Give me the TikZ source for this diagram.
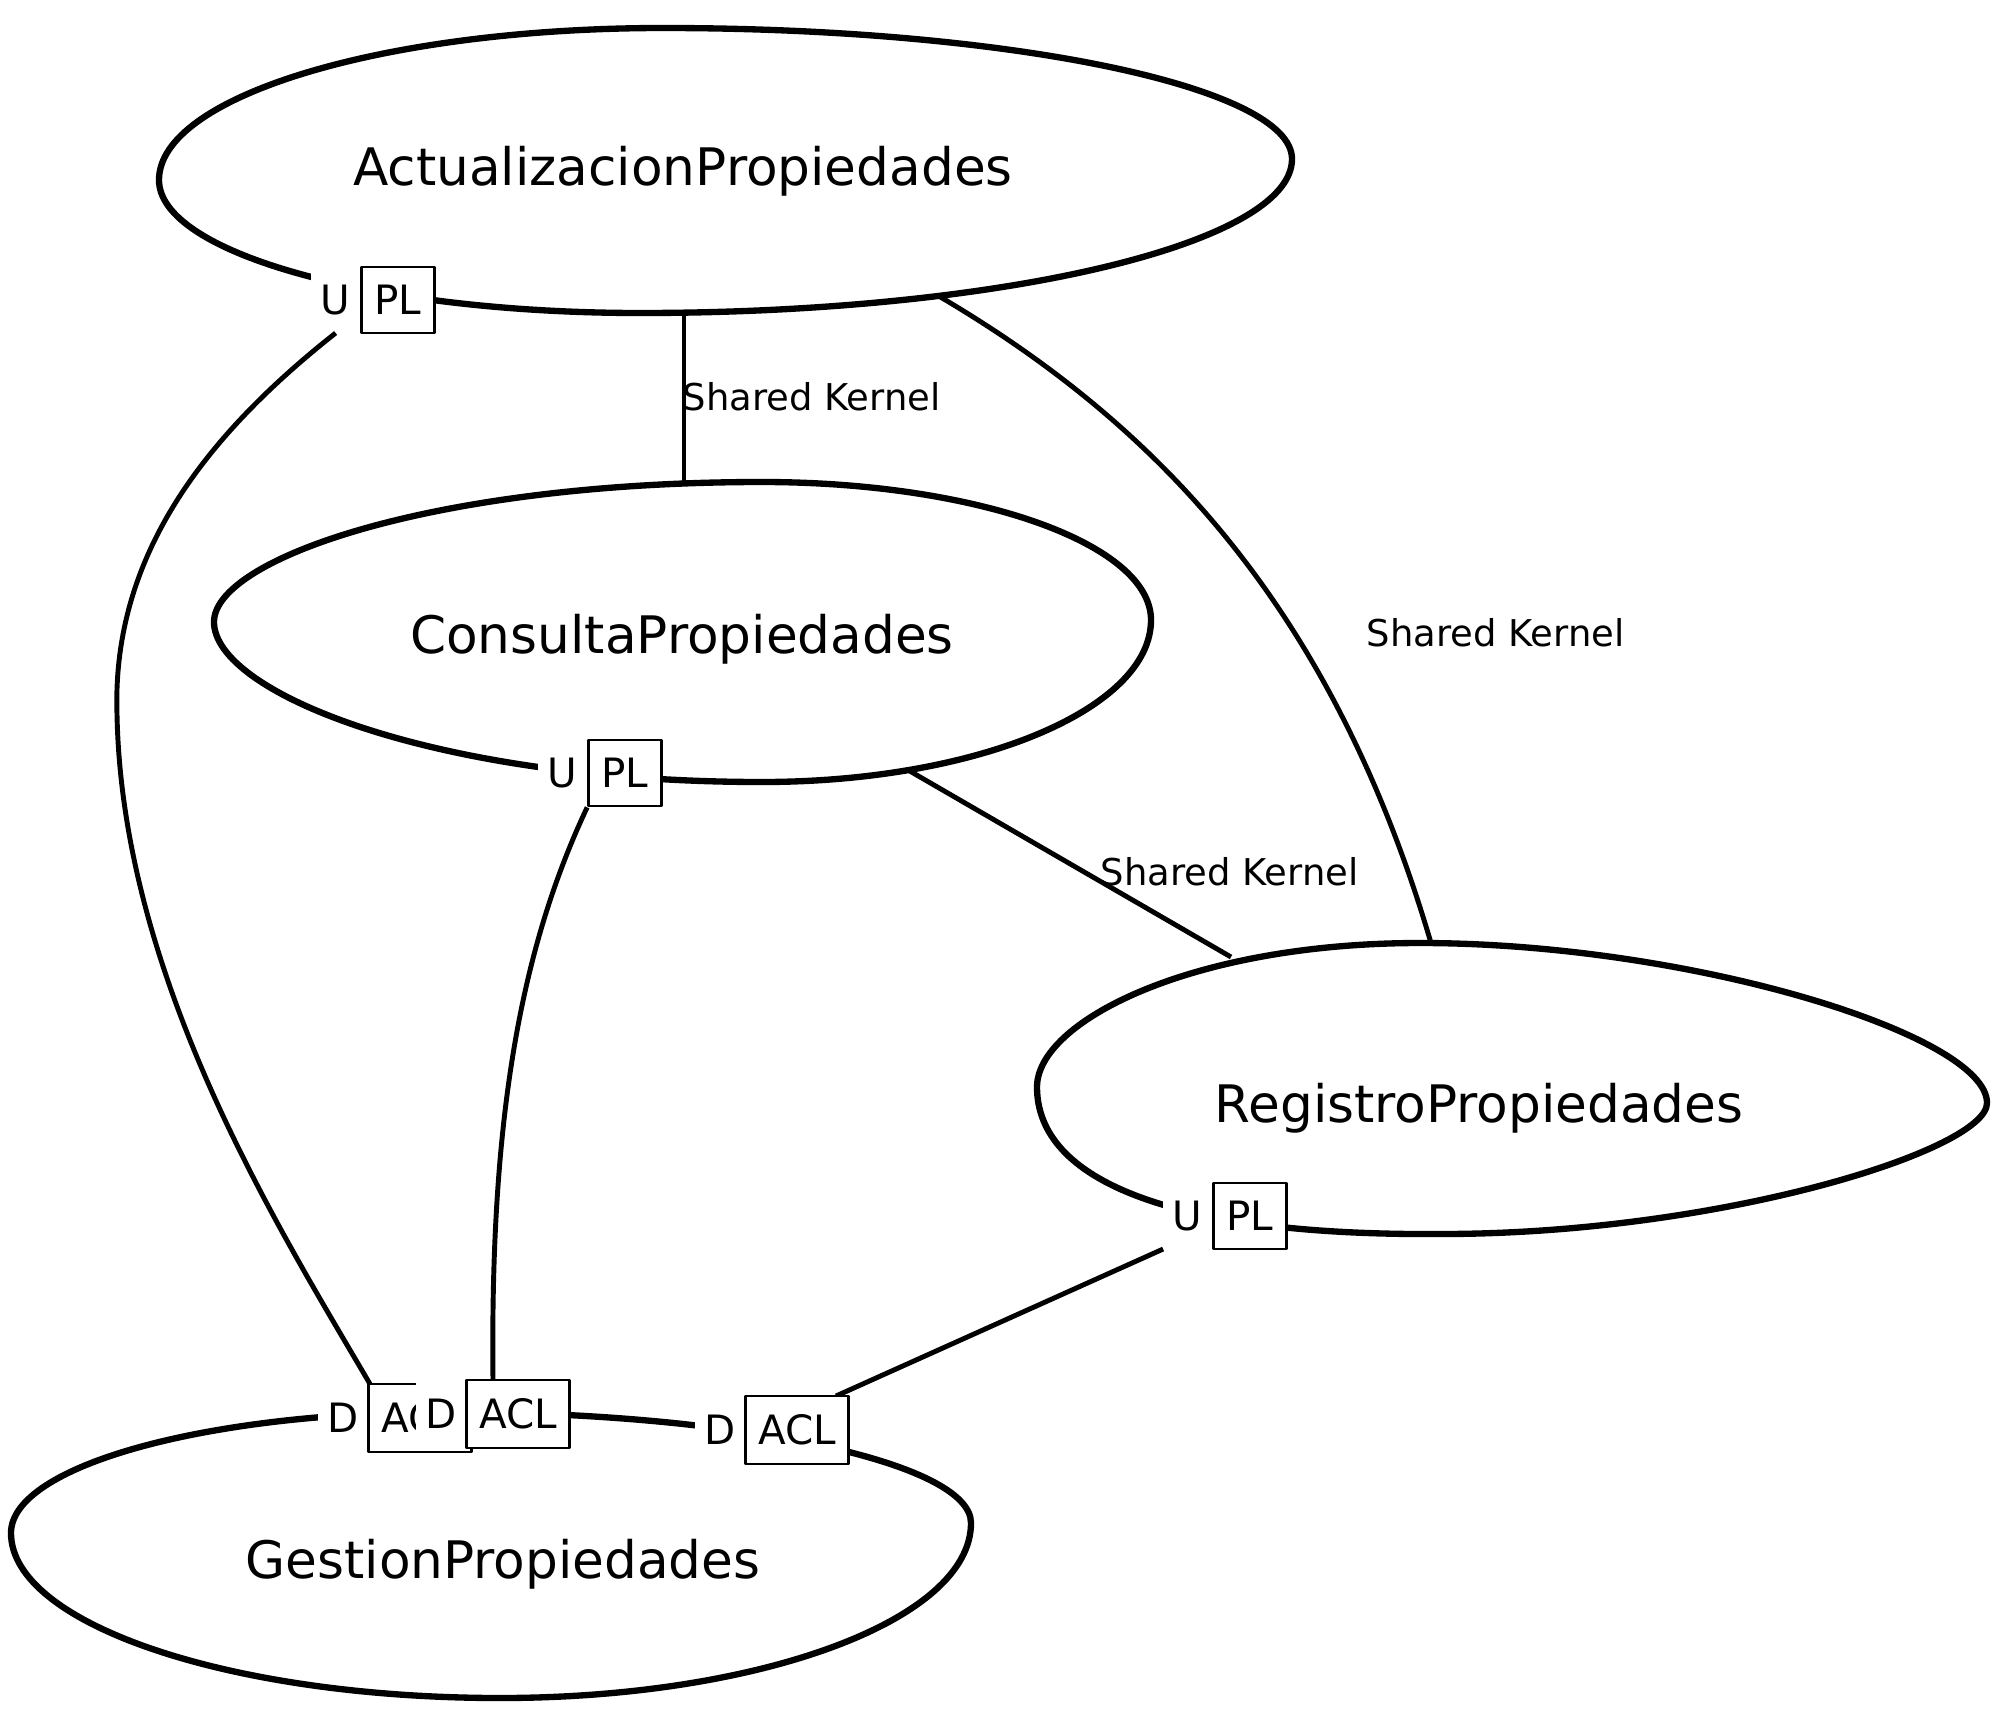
\documentclass[tikz,border=0pt]{standalone}
\usepackage{fontspec}
\setmainfont{DejaVu Sans}
\usepackage{tikz}
\usetikzlibrary{positioning,calc}

\begin{document}
\begin{tikzpicture}[x=0.01cm,y=-0.01cm,line join=round,
  blob/.style={line width=1.8pt},
  rel/.style={line width=1.4pt},
  title/.style={anchor=base,font=\fontsize{14.7}{16}\selectfont},
  kernel/.style={anchor=base west,inner sep=0pt,font=\fontsize{10.5}{12}\selectfont},
  tagbox/.style={draw,line width=0.75pt,fill=white,inner sep=0pt,minimum height=0.66cm,
    font=\fontsize{11.5}{13}\selectfont},
  plbox/.style={tagbox,minimum width=0.73cm},
  aclbox/.style={tagbox,minimum width=1.03cm,minimum height=0.68cm},
  role/.style={fill=white,inner sep=0pt,outer sep=0pt,minimum width=0.49cm,minimum height=0.66cm,
    font=\fontsize{11.5}{13}\selectfont}]
  \useasboundingbox (0,0) rectangle (2000,1709);

  % contextes
  \draw[blob] (159,180) .. controls (159,96) and (385,28) .. (663,28)
    .. controls (1010,28) and (1292,87) .. (1292,159)
    .. controls (1292,244) and (1000,313) .. (640,313)
    .. controls (374,313) and (159,253) .. (159,180);
  \draw[blob] (214,622) .. controls (214,559) and (433,482) .. (762,482)
    .. controls (977,482) and (1151,544) .. (1151,620)
    .. controls (1151,709) and (977,782) .. (762,782)
    .. controls (432,782) and (214,692) .. (214,622);
  \draw[blob] (1037,1087) .. controls (1037,1022) and (1190,943) .. (1420,943)
    .. controls (1690,943) and (1987,1035) .. (1987,1103)
    .. controls (1987,1150) and (1720,1234) .. (1441,1234)
    .. controls (1170,1236) and (1037,1180) .. (1037,1087);
  \draw[blob] (11,1533) .. controls (11,1466) and (206,1412) .. (446,1412)
    .. controls (736,1412) and (971,1462) .. (971,1523)
    .. controls (971,1620) and (760,1698) .. (500,1698)
    .. controls (230,1698) and (11,1624) .. (11,1533);

  \node[title] (actualizacion) at (683,185) {ActualizacionPropiedades};
  \node[title] (consulta) at (682,653) {ConsultaPropiedades};
  \node[title] (registro) at (1479,1122) {RegistroPropiedades};
  \node[title] (gestion) at (503,1578) {GestionPropiedades};

  % points d'attache
  \coordinate (act-bot) at (684,313);
  \coordinate (act-reg) at (937,295);
  \coordinate (con-top) at (684,483);
  \coordinate (con-reg) at (908,770);
  \coordinate (reg-top) at (1431,943);
  \coordinate (reg-con) at (1231,957);

  % shared kernel
  \node[kernel] (sk1) at (682,410) {Shared Kernel};
  \node[kernel] (sk2) at (1366,646) {Shared Kernel};
  \node[kernel] (sk3) at (1100,885) {Shared Kernel};
  \draw[rel] (act-bot) -- (con-top);
  \draw[rel] (act-reg) .. controls (1150,420) and (1330,600) .. (reg-top);
  \draw[rel] (con-reg) -- (reg-con);

  % upstream / downstream
  \node[plbox] (pl1) at (398,300) {PL};
  \node[role,left=0pt of pl1] (u1) {U};
  \node[plbox] (pl2) at (625,773) {PL};
  \node[role,left=0pt of pl2] (u2) {U};
  \node[plbox] (pl3) at (1250,1216) {PL};
  \node[role,left=0pt of pl3] (u3) {U};

  \draw[rel] (u1.south) .. controls (200,440) and (112,560) .. (117,714)
    .. controls (122,980) and (280,1230) .. (370,1384);
  \draw[rel] (pl2.south west) .. controls (520,950) and (490,1120) .. (493,1380);
  \draw[rel] (u3.south west) -- (836,1396);

  \node[aclbox] (acl1) at (420,1418) {ACL};
  \node[role,left=0pt of acl1,minimum height=0.68cm] (d1) {D};
  \node[aclbox] (acl2) at (518,1414) {ACL};
  \node[role,left=0pt of acl2,minimum height=0.68cm] (d2) {D};
  \node[aclbox] (acl3) at (797,1430) {ACL};
  \node[role,left=0pt of acl3,minimum height=0.68cm] (d3) {D};
\end{tikzpicture}
\end{document}
